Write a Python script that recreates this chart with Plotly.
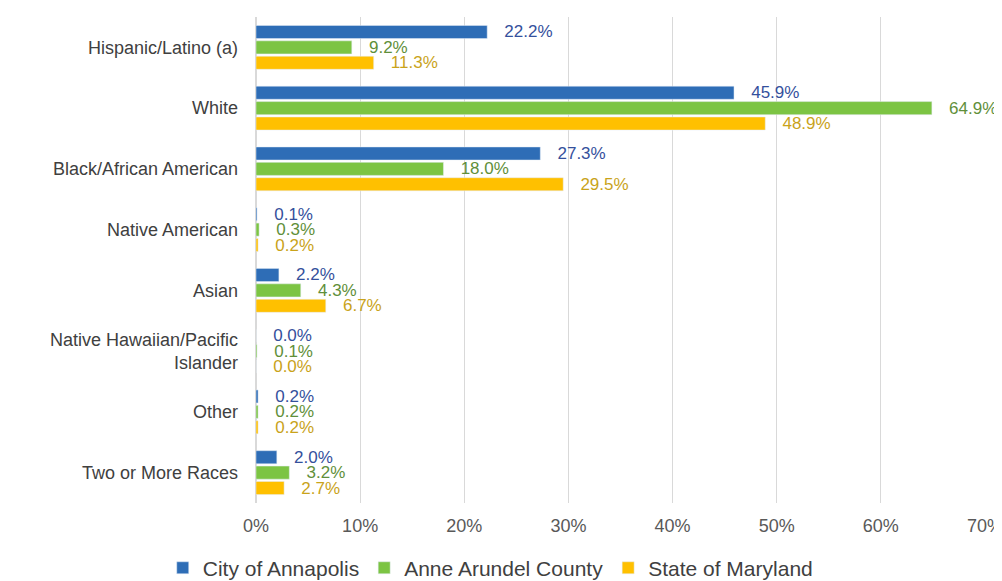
import plotly.graph_objects as go

categories = ['Hispanic/Latino (a)', 'White', 'Black/African American', 'Native American',
              'Asian', 'Native Hawaiian/Pacific<br>Islander', 'Other', 'Two or More Races']
annapolis = [22.2, 45.9, 27.3, 0.1, 2.2, 0.0, 0.2, 2.0]
county = [9.2, 64.9, 18.0, 0.3, 4.3, 0.1, 0.2, 3.2]
maryland = [11.3, 48.9, 29.5, 0.2, 6.7, 0.0, 0.2, 2.7]
series_names = ['City of Annapolis', 'Anne Arundel County', 'State of Maryland']
tick_vals = [0, 10, 20, 30, 40, 50, 60, 70]
tick_text = ['0%', '10%', '20%', '30%', '40%', '50%', '60%', '70%']

bar_colors = ['#2e6db6', '#7cc443', '#ffc000']
text_colors = ['#34509c', '#5f8f3a', '#c9a31a']

fig = go.Figure()
for name, vals, bc, tc in zip(series_names, [annapolis, county, maryland], bar_colors, text_colors):
    fig.add_trace(go.Bar(y=categories,
                         x=vals,
                         name=name,
                         orientation='h',
                         marker_color=bc,
                         text=['\u00a0\u00a0\u00a0' + f'{v:.1f}%' for v in vals],
                         textposition='outside',
                         constraintext='none',
                         cliponaxis=False,
                         textfont=dict(color=tc, size=17)))

# page body adds an 8px offset; extra height at the bottom keeps the legend from squeezing the plot
fig.update_layout(width=1002,
                  height=600,
                  margin=dict(l=248, r=25, t=9, b=105),
                  barmode='group',
                  bargap=0.24,
                  bargroupgap=0.15,
                  plot_bgcolor='white',
                  paper_bgcolor='white',
                  font=dict(family='Liberation Sans, Arial', size=18, color='#404040'),
                  xaxis=dict(range=[0, 70],
                             tickvals=tick_vals,
                             ticktext=tick_text,
                             ticks='outside',
                             ticklen=6,
                             tickcolor='rgba(0,0,0,0)',
                             ticklabeloverflow='allow',
                             showgrid=True,
                             gridcolor='#d9d9d9',
                             zeroline=True,
                             zerolinecolor='#d9d9d9',
                             automargin=False,
                             tickfont=dict(size=18, color='#595959')),
                  yaxis=dict(autorange='reversed',
                             automargin=False,
                             ticklabelstandoff=17,
                             tickfont=dict(size=18, color='#404040')),
                  legend=dict(orientation='h',
                              xanchor='center',
                              x=0.322,
                              yanchor='middle',
                              y=-0.134,
                              font=dict(size=21, color='#404040'),
                              itemwidth=30),
                  hovermode=False)

fig.write_html('out.html')
